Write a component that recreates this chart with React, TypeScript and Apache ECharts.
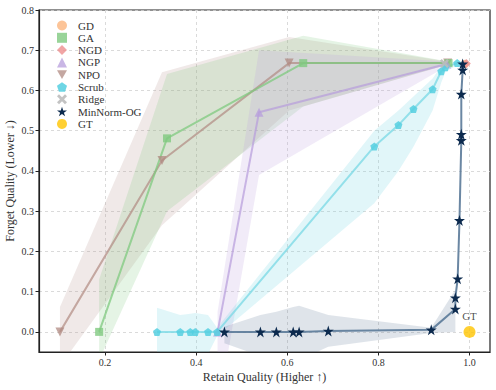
import React, { useEffect, useRef } from "react";
import * as echarts from "echarts";

const xTicks = [0.2, 0.4, 0.6, 0.8, 1.0];
const yTicks = [0.0, 0.1, 0.2, 0.3, 0.4, 0.5, 0.6, 0.7, 0.8];

const gaX = [0.187, 0.336, 0.635, 0.954];
const gaY = [0.0, 0.481, 0.668, 0.668];
const gaLo = [-0.07, 0.3, 0.56, 0.665];
const gaHi = [0.13, 0.641, 0.736, 0.672];

const npoX = [0.101, 0.325, 0.604, 0.952];
const npoY = [0.0, 0.426, 0.668, 0.668];
const npoLo = [-0.085, 0.265, 0.55, 0.664];
const npoHi = [0.062, 0.645, 0.733, 0.672];

const ngpX = [0.447, 0.538, 0.95];
const ngpY = [0.0, 0.546, 0.666];
const ngpLo = [-0.2, 0.39, 0.66];
const ngpHi = [0.05, 0.7, 0.672];

const scrubX = [0.314, 0.365, 0.387, 0.398, 0.426, 0.446, 0.791, 0.844, 0.877, 0.919, 0.938, 0.947, 0.973];
const scrubY = [0, 0, 0, 0, 0, 0, 0.461, 0.514, 0.554, 0.603, 0.648, 0.658, 0.668];
const scrubLo = [-0.07, -0.06, -0.06, -0.06, -0.055, -0.01, 0.32, 0.4, 0.46, 0.55, 0.62, 0.645, 0.664];
const scrubHi = [0.06, 0.042, 0.045, 0.047, 0.042, 0.01, 0.5, 0.55, 0.585, 0.63, 0.66, 0.665, 0.672];

const mnX = [0.462, 0.541, 0.576, 0.613, 0.626, 0.69, 0.916, 0.969, 0.969, 0.974, 0.978, 0.982, 0.982, 0.982, 0.985, 0.985];
const mnY = [0.0, 0.0, 0.0, 0.0, 0.0, 0.002, 0.005, 0.057, 0.085, 0.132, 0.277, 0.476, 0.491, 0.591, 0.651, 0.666];
const mnLo = [-0.028, -0.06, -0.07, -0.07, -0.07, -0.037, -0.003, 0.0, 0.07, 0.12, 0.27, 0.47, 0.485, 0.585, 0.645, 0.66];
const mnHi = [0.013, 0.042, 0.05, 0.062, 0.065, 0.042, 0.01, 0.105, 0.1, 0.145, 0.285, 0.482, 0.497, 0.597, 0.657, 0.672];

const gdPoint = [0.99, 0.666];
const ngdPoint = [0.993, 0.667];
const ridgePoint = [0.945, 0.667];
const gtPoint = [1.0, 0.0];

const FONT = "Liberation Serif";
const STAR = "path://M50,0 L61.2,34.5 L97.6,34.5 L68.2,55.9 L79.4,90.5 L50,69.1 L20.6,90.5 L31.8,55.9 L2.4,34.5 L38.8,34.5 Z";
const PENTA = "path://M50,0 L97.6,34.5 L79.4,90.5 L20.6,90.5 L2.4,34.5 Z";
const XMARK = "path://M20,0 L50,30 L80,0 L100,20 L70,50 L100,80 L80,100 L50,70 L20,100 L0,80 L30,50 L0,20 Z";
const TRI_DOWN = "path://M0,0 L100,0 L50,87 Z";

const zip = (xs: number[], ys: number[]) => xs.map((x, i) => [x, ys[i]]);

function band(name: string, xs: number[], lo: number[], hi: number[], fill: string) {
  return {
    type: "custom",
    name,
    clip: true,
    silent: true,
    z: 1,
    data: [[xs[0], lo[0]]],
    renderItem: (_p: any, api: any) => {
      const pts: number[][] = [];
      for (let i = 0; i < xs.length; i++) pts.push(api.coord([xs[i], hi[i]]));
      for (let i = xs.length - 1; i >= 0; i--) pts.push(api.coord([xs[i], lo[i]]));
      return { type: "polygon", shape: { points: pts }, style: { fill, stroke: "none" } };
    },
  };
}

function lineSeries(name: string, xs: number[], ys: number[], symbol: string, size: number, mColor: string, lColor: string, lOpacity: number, mOpacity: number, width = 2) {
  return {
    type: "line",
    name,
    z: 3,
    data: zip(xs, ys),
    symbol,
    symbolSize: size,
    showAllSymbol: true,
    itemStyle: { color: mColor, opacity: mOpacity },
    lineStyle: { color: lColor, width, opacity: lOpacity },
  };
}

export default function App() {
  const ref = useRef<HTMLDivElement>(null);
  useEffect(() => {
    document.body.style.margin = "0";
    if (!ref.current) return;
    const chart = echarts.init(ref.current, undefined, { renderer: "svg" });
    const option: any = {
      animation: false,
      grid: {
        left: 39, right: 6, top: 10, bottom: 38,
        outerBoundsMode: "none",
        containLabel: false,
        show: true, borderColor: "#222", borderWidth: 1.2, backgroundColor: "transparent",
      },
      legend: {
        orient: "vertical",
        left: 52,
        top: 15,
        itemWidth: 10,
        itemHeight: 10,
        itemGap: 1.3,
        selectedMode: false,
        textStyle: { fontFamily: FONT, fontSize: 11, lineHeight: 10, color: "#333", padding: [0, 0, 0, 6] },
        data: [
          { name: "GD", icon: "circle" },
          { name: "GA", icon: "rect" },
          { name: "NGD", icon: "diamond" },
          { name: "NGP", icon: "triangle" },
          { name: "NPO", icon: TRI_DOWN },
          { name: "Scrub", icon: PENTA },
          { name: "Ridge", icon: XMARK },
          { name: "MinNorm-OG", icon: STAR },
          { name: "GT", icon: "circle" },
        ],
      },
      xAxis: {
        type: "value",
        min: 0.055,
        max: 1.045,
        name: "Retain Quality (Higher \u2191)",
        nameLocation: "middle",
        nameGap: 19,
        nameMoveOverlap: false,
        nameTextStyle: { fontFamily: FONT, fontSize: 12, color: "#333" },
        axisLine: { onZero: false, lineStyle: { color: "#222", width: 1.2 } },
        axisTick: { show: true, customValues: xTicks, length: 3.5, lineStyle: { color: "#222" } },
        axisLabel: { customValues: xTicks, formatter: (v: number) => v.toFixed(1), fontFamily: FONT, fontSize: 10, color: "#333", margin: 5 },
        splitLine: { show: true, lineStyle: { color: "#d0d0d0", type: [3, 3], width: 0.8 } },
      },
      yAxis: {
        type: "value",
        min: -0.05,
        max: 0.8,
        name: "Forget Quality (Lower \u2193)",
        nameLocation: "middle",
        nameGap: 23,
        nameMoveOverlap: false,
        nameTextStyle: { fontFamily: FONT, fontSize: 12, color: "#333" },
        axisLine: { show: true, onZero: false, lineStyle: { color: "#222", width: 1.2 } },
        axisTick: { show: true, customValues: yTicks, length: 3.5, lineStyle: { color: "#222" } },
        axisLabel: { customValues: yTicks, formatter: (v: number) => v.toFixed(1), fontFamily: FONT, fontSize: 10, color: "#333", margin: 5 },
        splitLine: { show: true, lineStyle: { color: "#d0d0d0", type: [3, 3], width: 0.8 } },
      },
      series: [
        band("band-npo", npoX, npoLo, npoHi, "rgba(181,145,138,0.2)"),
        band("band-ga", gaX, gaLo, gaHi, "rgba(127,201,127,0.2)"),
        band("band-ngp", ngpX, ngpLo, ngpHi, "rgba(192,166,224,0.22)"),
        band("band-scrub", scrubX, scrubLo, scrubHi, "rgba(120,215,228,0.22)"),
        band("band-mn", mnX, mnLo, mnHi, "rgba(95,120,148,0.2)"),
        { type: "scatter", name: "GD", z: 3, data: [gdPoint], symbol: "circle", symbolSize: 8, itemStyle: { color: "#fbb57e", opacity: 0.8 } },
        lineSeries("NPO", npoX, npoY, TRI_DOWN, 9, "#b08a82", "#b08a82", 0.7, 0.75),
        lineSeries("GA", gaX, gaY, "rect", 8, "#7fc97f", "#7fc97f", 0.75, 0.8),
        { type: "scatter", name: "NGD", z: 3, data: [ngdPoint], symbol: "diamond", symbolSize: 9, itemStyle: { color: "#ee8f8f", opacity: 0.8 } },
        lineSeries("NGP", ngpX, ngpY, "triangle", 9, "#b79ddc", "#b79ddc", 0.7, 0.75),
        lineSeries("Scrub", scrubX, scrubY, PENTA, 8, "#55cfe0", "#7fdbe6", 0.8, 0.85),
        { type: "scatter", name: "Ridge", z: 3, data: [ridgePoint], symbol: XMARK, symbolSize: 9, itemStyle: { color: "#bdbdbd", opacity: 0.9 } },
        {
          ...lineSeries("MinNorm-OG", mnX, mnY, STAR, 11, "#0c2a4e", "#5b7a99", 0.9, 1, 2),
          z: 4,
        },
        {
          type: "scatter",
          name: "GT",
          z: 5,
          data: [gtPoint],
          symbol: "circle",
          symbolSize: 12,
          itemStyle: { color: "#ffc400" },
          label: { show: true, position: "top", distance: 4, formatter: "GT", fontFamily: FONT, fontSize: 11, color: "#222" },
        },
      ],
    };
    chart.setOption(option);
    return () => chart.dispose();
  }, []);
  return <div ref={ref} style={{ width: 496, height: 390 }} />;
}
